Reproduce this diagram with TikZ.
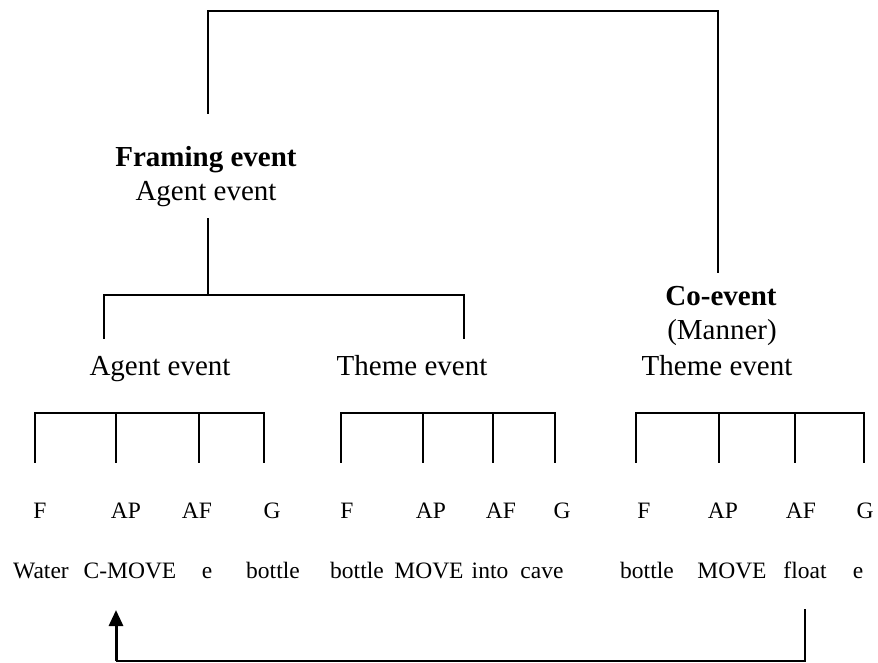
\documentclass[tikz,border=0pt]{standalone}
\usepackage{fontspec}
\setmainfont{Liberation Serif}
\usetikzlibrary{arrows.meta}
\begin{document}
\begin{tikzpicture}[x=1pt,y=-1pt,
  big/.style={font=\fontsize{29}{32}\selectfont, anchor=base, inner sep=0pt},
  bigbold/.style={big, font=\fontsize{29}{32}\selectfont\bfseries},
  small/.style={font=\fontsize{23.5}{28}\selectfont, anchor=base, inner sep=0pt},
  link/.style={line width=2pt, line cap=rect},
  rail/.style={line width=1.3pt},
  shaft/.style={line width=3pt, -{Triangle[width=14pt,length=16pt]}}]
\useasboundingbox (0,0) rectangle (878,662);

% --- headings ---
\node[bigbold] (frame)  at (206,166) {Framing event};
\node[big]     (frameA) at (206,200) {Agent event};
\node[bigbold] (co)     at (721,305) {Co-event};
\node[big]     (manner) at (722,339) {(Manner)};
\node[big]     (agent)  at (160,375) {Agent event};
\node[big]     (themeA) at (412,375) {Theme event};
\node[big]     (themeB) at (717,375) {Theme event};

% --- joints of the upper brackets ---
\coordinate (frameTop) at (208,113);
\coordinate (coTop)    at (718,272);
\coordinate (frameBot) at (208,219);
\coordinate (midBar)   at (208,295);
\coordinate (agentTop) at (104,338);
\coordinate (themeTop) at (464,338);

\draw[link] (frameTop) -- (208,11) -| (coTop);
\draw[link] (frameBot) -- (midBar);
\draw[link] (agentTop) |- (midBar) -| (themeTop);

% --- role labels and fillers ---
\foreach \n/\x/\t in {r1/40/F, r2/126/AP, r3/197/AF, r4/272/G,
                      r5/347/F, r6/431/AP, r7/501/AF, r8/562/G,
                      r9/644/F, r10/723/AP, r11/801/AF, r12/865/G}
  \node[small] (\n) at (\x,518) {\t};

\foreach \n/\x/\t in {w1/41/Water, w2/130/C-MOVE, w3/207/e, w4/273/bottle,
                      w5/357/bottle, w6/429/MOVE, w7/490/into, w8/542/cave,
                      w9/647/bottle, w10/732/MOVE, w11/805/float, w12/858/e}
  \node[small] (\n) at (\x,578) {\t};

% --- lower brackets: top bar at 413, legs down to 462 ---
\foreach \a/\b/\c/\d in {35/116/199/264, 341/423/493/555, 636/719/795/864} {
  \draw[link] (\a,462) |- (\d,413) -- (\d,462);
  \draw[link] (\b,413) -- (\b,462);
  \draw[link] (\c,413) -- (\c,462);
}

% --- arrow from "float" back to "C-MOVE" ---
\coordinate (floatLeg) at (805,610);
\coordinate (cornerR)  at (805,661);
\coordinate (cornerL)  at (116,661);
\coordinate (tip)      at (116,610);
\draw[link] (floatLeg) -- (cornerR);
\draw[rail] (cornerR) -- (cornerL);
\draw[shaft] (cornerL) -- (tip);
\end{tikzpicture}
\end{document}
